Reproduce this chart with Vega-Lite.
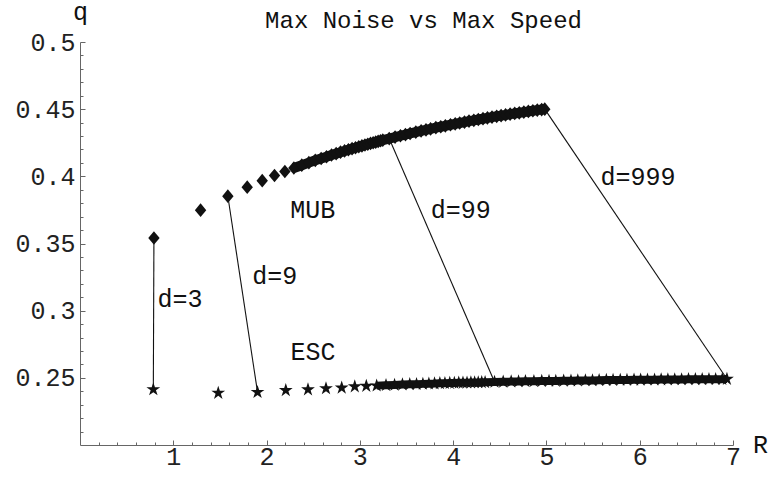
{
  "$schema": "https://vega.github.io/schema/vega-lite/v6.json",
  "width": 653,
  "height": 403,
  "autosize": {"type": "none"},
  "padding": {"left": 80, "top": 42, "right": 36, "bottom": 32},
  "background": "white",
  "title": {"text": "Max Noise vs Max Speed", "font": "Liberation Mono", "fontSize": 24, "fontWeight": "normal", "color": "#111", "anchor": "middle", "dx": 17, "baseline": "alphabetic", "offset": -53, "frame": "group"},
  "config": {
    "view": {"stroke": null},
    "axis": {"labelFont": "Liberation Mono", "labelFontSize": 25, "labelColor": "#222", "titleFont": "Liberation Mono", "titleFontSize": 25, "titleFontWeight": "normal", "titleColor": "#111", "tickColor": "#666", "domainColor": "#666", "grid": false, "labelFlush": false, "labelOverlap": false, "labelBound": false}
  },
  "datasets": {
    "pts": [
      {"d":3,"Rm":0.7925,"qm":0.3541,"Re":0.786,"qe":0.2414},
      {"d":6,"Rm":1.2925,"qm":0.3748,"Re":1.482,"qe":0.2387},
      {"d":9,"Rm":1.585,"qm":0.3852,"Re":1.903,"qe":0.2393},
      {"d":12,"Rm":1.7925,"qm":0.3919,"Re":2.206,"qe":0.2407},
      {"d":15,"Rm":1.9534,"qm":0.3968,"Re":2.444,"qe":0.2413},
      {"d":18,"Rm":2.085,"qm":0.4006,"Re":2.637,"qe":0.2421},
      {"d":21,"Rm":2.1962,"qm":0.4036,"Re":2.8054,"qe":0.2426},
      {"d":24,"Rm":2.2925,"qm":0.4062,"Re":2.9454,"qe":0.2435},
      {"d":27,"Rm":2.3774,"qm":0.4083,"Re":3.0692,"qe":0.2439},
      {"d":30,"Rm":2.4535,"qm":0.4102,"Re":3.18,"qe":0.2442},
      {"d":33,"Rm":2.5222,"qm":0.4119,"Re":3.2803,"qe":0.2445},
      {"d":36,"Rm":2.585,"qm":0.4133,"Re":3.372,"qe":0.2447},
      {"d":39,"Rm":2.6427,"qm":0.4146,"Re":3.4564,"qe":0.245},
      {"d":42,"Rm":2.6962,"qm":0.4159,"Re":3.5347,"qe":0.2452},
      {"d":45,"Rm":2.746,"qm":0.4169,"Re":3.6076,"qe":0.2453},
      {"d":48,"Rm":2.7925,"qm":0.418,"Re":3.6757,"qe":0.2455},
      {"d":51,"Rm":2.8362,"qm":0.4189,"Re":3.7398,"qe":0.2456},
      {"d":54,"Rm":2.8775,"qm":0.4198,"Re":3.8004,"qe":0.2457},
      {"d":57,"Rm":2.9164,"qm":0.4206,"Re":3.8575,"qe":0.2459},
      {"d":60,"Rm":2.9534,"qm":0.4213,"Re":3.9119,"qe":0.246},
      {"d":63,"Rm":2.9886,"qm":0.422,"Re":3.9636,"qe":0.2461},
      {"d":66,"Rm":3.0222,"qm":0.4227,"Re":4.0129,"qe":0.2462},
      {"d":69,"Rm":3.0543,"qm":0.4233,"Re":4.0601,"qe":0.2463},
      {"d":72,"Rm":3.085,"qm":0.4239,"Re":4.1053,"qe":0.2463},
      {"d":75,"Rm":3.1144,"qm":0.4245,"Re":4.1487,"qe":0.2464},
      {"d":78,"Rm":3.1427,"qm":0.425,"Re":4.1903,"qe":0.2465},
      {"d":81,"Rm":3.1699,"qm":0.4255,"Re":4.2304,"qe":0.2466},
      {"d":84,"Rm":3.1962,"qm":0.426,"Re":4.2691,"qe":0.2466},
      {"d":87,"Rm":3.2215,"qm":0.4265,"Re":4.3064,"qe":0.2467},
      {"d":90,"Rm":3.2459,"qm":0.4269,"Re":4.3425,"qe":0.2467},
      {"d":99,"Rm":3.3147,"qm":0.4281,"Re":4.4439,"qe":0.2469},
      {"d":108,"Rm":3.3774,"qm":0.4292,"Re":4.5366,"qe":0.247},
      {"d":117,"Rm":3.4352,"qm":0.4302,"Re":4.6221,"qe":0.2472},
      {"d":126,"Rm":3.4887,"qm":0.4311,"Re":4.7011,"qe":0.2473},
      {"d":135,"Rm":3.5384,"qm":0.4319,"Re":4.7749,"qe":0.2474},
      {"d":147,"Rm":3.5998,"qm":0.4329,"Re":4.8658,"qe":0.2475},
      {"d":159,"Rm":3.6565,"qm":0.4338,"Re":4.9498,"qe":0.2476},
      {"d":171,"Rm":3.709,"qm":0.4346,"Re":5.0277,"qe":0.2477},
      {"d":183,"Rm":3.7579,"qm":0.4353,"Re":5.1004,"qe":0.2477},
      {"d":198,"Rm":3.8147,"qm":0.4362,"Re":5.1849,"qe":0.2478},
      {"d":213,"Rm":3.8674,"qm":0.4369,"Re":5.2632,"qe":0.2479},
      {"d":228,"Rm":3.9164,"qm":0.4376,"Re":5.3362,"qe":0.248},
      {"d":246,"Rm":3.9712,"qm":0.4384,"Re":5.4179,"qe":0.2481},
      {"d":264,"Rm":4.0222,"qm":0.4391,"Re":5.4938,"qe":0.2481},
      {"d":282,"Rm":4.0698,"qm":0.4397,"Re":5.5648,"qe":0.2482},
      {"d":303,"Rm":4.1216,"qm":0.4404,"Re":5.6422,"qe":0.2483},
      {"d":324,"Rm":4.1699,"qm":0.4411,"Re":5.7143,"qe":0.2483},
      {"d":348,"Rm":4.2215,"qm":0.4417,"Re":5.7915,"qe":0.2484},
      {"d":372,"Rm":4.2696,"qm":0.4423,"Re":5.8634,"qe":0.2484},
      {"d":399,"Rm":4.3201,"qm":0.4429,"Re":5.939,"qe":0.2485},
      {"d":426,"Rm":4.3674,"qm":0.4435,"Re":6.0098,"qe":0.2485},
      {"d":456,"Rm":4.4165,"qm":0.4441,"Re":6.0834,"qe":0.2486},
      {"d":489,"Rm":4.4669,"qm":0.4447,"Re":6.1591,"qe":0.2486},
      {"d":522,"Rm":4.514,"qm":0.4452,"Re":6.2298,"qe":0.2487},
      {"d":558,"Rm":4.562,"qm":0.4457,"Re":6.3019,"qe":0.2487},
      {"d":597,"Rm":4.6108,"qm":0.4463,"Re":6.3752,"qe":0.2488},
      {"d":639,"Rm":4.6599,"qm":0.4468,"Re":6.449,"qe":0.2488},
      {"d":684,"Rm":4.7089,"qm":0.4473,"Re":6.5228,"qe":0.2489},
      {"d":732,"Rm":4.7579,"qm":0.4478,"Re":6.5966,"qe":0.2489},
      {"d":783,"Rm":4.8064,"qm":0.4483,"Re":6.6698,"qe":0.2489},
      {"d":837,"Rm":4.8546,"qm":0.4488,"Re":6.7423,"qe":0.249},
      {"d":894,"Rm":4.9021,"qm":0.4493,"Re":6.8141,"qe":0.249},
      {"d":954,"Rm":4.949,"qm":0.4497,"Re":6.8849,"qe":0.249},
      {"d":999,"Rm":4.9822,"qm":0.45,"Re":6.935,"qe":0.2491}
    ],
    "labels": [
      {"R":2.4945,"q":0.3748,"text":"MUB"},
      {"R":2.4977,"q":0.2695,"text":"ESC"},
      {"R":1.072,"q":0.3089,"text":"d=3"},
      {"R":2.0871,"q":0.326,"text":"d=9"},
      {"R":4.0821,"q":0.3748,"text":"d=99"},
      {"R":5.9816,"q":0.3997,"text":"d=999"}
    ]
  },
  "encoding": {
    "x": {"type": "quantitative", "scale": {"domain": [0, 7], "nice": false, "zero": false},
      "axis": {"values": [0.2,0.4,0.6,0.8,1,1.2,1.4,1.6,1.8,2,2.2,2.4,2.6,2.8,3,3.2,3.4,3.6,3.8,4,4.2,4.4,4.6,4.8,5,5.2,5.4,5.6,5.8,6,6.2,6.4,6.6,6.8,7],
        "labelExpr": "abs(datum.value - round(datum.value)) < 0.001 ? format(datum.value, 'd') : ''",
        "tickSize": {"condition": {"test": "abs(datum.value - round(datum.value)) < 0.001", "value": -5}, "value": -3},
        "labelPadding": 4,
        "title": "R", "titleAngle": 0, "titleX": 680, "titleY": 7, "titleAlign": "center", "titleBaseline": "alphabetic"}},
    "y": {"type": "quantitative", "scale": {"domain": [0.2, 0.5], "nice": false, "zero": false},
      "axis": {"values": [0.21,0.22,0.23,0.24,0.25,0.26,0.27,0.28,0.29,0.3,0.31,0.32,0.33,0.34,0.35,0.36,0.37,0.38,0.39,0.4,0.41,0.42,0.43,0.44,0.45,0.46,0.47,0.48,0.49,0.5],
        "labelExpr": "abs(datum.value * 20 - round(datum.value * 20)) < 0.001 ? format(datum.value, '.2~f') : ''",
        "tickSize": {"condition": {"test": "abs(datum.value * 20 - round(datum.value * 20)) < 0.001", "value": -5}, "value": -3},
        "labelPadding": 10,
        "title": "q", "titleAngle": 0, "titleX": 0, "titleY": -23, "titleAlign": "center", "titleBaseline": "alphabetic"}}
  },
  "layer": [
    {
      "data": {"name": "pts"},
      "transform": [{"filter": "indexof([3, 9, 99, 999], datum.d) >= 0"}],
      "mark": {"type": "rule", "color": "#111", "strokeWidth": 1.1},
      "encoding": {
        "x": {"field": "Rm"},
        "y": {"field": "qm"},
        "x2": {"field": "Re"},
        "y2": {"field": "qe"}
      }
    },
    {
      "data": {"name": "pts"},
      "transform": [{"filter": "datum.d >= 24"}],
      "mark": {"type": "line", "color": "#111", "strokeWidth": 10, "strokeCap": "butt"},
      "encoding": {
        "x": {"field": "Rm"},
        "y": {"field": "qm"}
      }
    },
    {
      "data": {"name": "pts"},
      "transform": [{"filter": "datum.d >= 30"}],
      "mark": {"type": "line", "color": "#111", "strokeWidth": 8, "strokeCap": "butt"},
      "encoding": {
        "x": {"field": "Re"},
        "y": {"field": "qe"}
      }
    },
    {
      "data": {"name": "pts"},
      "mark": {"type": "point", "shape": "M0,-1.2L1,0L0,1.2L-1,0Z", "filled": true, "color": "#111", "opacity": 1, "size": 130},
      "encoding": {
        "x": {"field": "Rm"},
        "y": {"field": "qm"}
      }
    },
    {
      "data": {"name": "pts"},
      "mark": {"type": "point", "shape": "M0,-1L0.2245,-0.309L0.9511,-0.309L0.3633,0.118L0.5878,0.809L0,0.382L-0.5878,0.809L-0.3633,0.118L-0.9511,-0.309L-0.2245,-0.309Z", "filled": true, "color": "#111", "opacity": 1, "size": 210},
      "encoding": {
        "x": {"field": "Re"},
        "y": {"field": "qe"}
      }
    },
    {
      "data": {"name": "labels"},
      "mark": {"type": "text", "font": "Liberation Mono", "fontSize": 25, "color": "#111", "align": "center", "baseline": "middle"},
      "encoding": {
        "x": {"field": "R"},
        "y": {"field": "q"},
        "text": {"field": "text"}
      }
    }
  ]
}
